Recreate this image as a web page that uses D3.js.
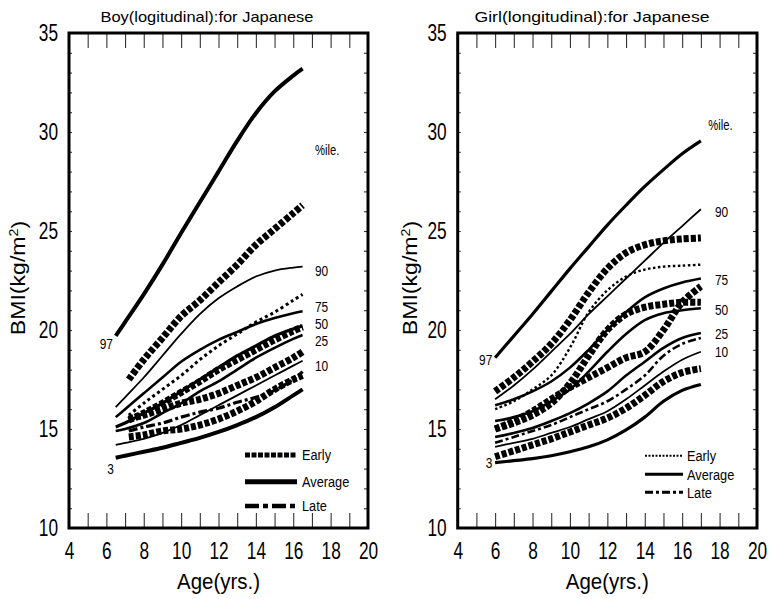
<!DOCTYPE html>
<html><head><meta charset="utf-8">
<script src="https://cdn.jsdelivr.net/npm/d3@7"></script>
<style>body{margin:0;background:#fff} svg{display:block} text{font-family:"Liberation Sans",Arial,sans-serif;fill:#000}</style>
</head><body><svg id="c" width="771" height="599"></svg>
<script>
// ---------- DATA ----------
const xTickLabels = [4,6,8,10,12,14,16,18,20];
const yTickLabels = [10,15,20,25,30,35];

// Boy percentile curves
const boyAges = [6.5,7,8,9,10,11,12,13,14,15,16,16.5];
const boyP97 = [19.7,20.4,21.8,23.3,24.9,26.45,28.0,29.55,30.95,32.05,32.85,33.2];
const boyP90 = [16.1,16.6,17.6,18.7,19.8,20.8,21.6,22.2,22.7,23.0,23.15,23.2];
const boyP75 = [15.6,16.0,16.8,17.6,18.4,19.0,19.5,19.9,20.3,20.6,20.85,20.95];
const boyP50 = [15.1,15.3,15.8,16.3,16.9,17.5,18.1,18.7,19.2,19.7,20.05,20.2];
const boyP25 = [14.9,15.0,15.3,15.8,16.3,16.9,17.4,18.0,18.6,19.1,19.55,19.75];
const boyP10 = [14.2,14.3,14.5,14.8,15.2,15.7,16.2,16.7,17.2,17.7,18.2,18.45];
const boyP3  = [13.55,13.65,13.85,14.05,14.3,14.55,14.85,15.2,15.6,16.1,16.7,17.0];
// Boy individual (maturity) curves
const boyAgesB = [7.2,8,9,10,11,12,13,14,15,16,16.5];
const boySqA = [17.5,18.5,19.6,20.7,21.5,22.4,23.3,24.3,25.1,25.9,26.3];
const boySqB = [15.45,15.8,16.3,16.85,17.4,18.0,18.5,19.0,19.5,19.95,20.15];
const boySqC = [15.5,15.7,16.0,16.3,16.5,16.8,17.2,17.6,18.1,18.6,18.9];
const boySqD = [14.6,14.7,14.9,15.0,15.2,15.5,15.9,16.4,17.0,17.5,17.7];
const boyEarly = [15.7,16.3,17.0,17.7,18.5,19.2,19.8,20.4,20.9,21.5,21.8];
const boyLate = [14.9,15.1,15.3,15.6,15.85,16.05,16.35,16.6,16.95,17.5,17.9];

// Girl curves
const girlAges = [6,7,8,9,10,11,12,13,14,15,16,17];
const girlP97 = [18.6,19.7,20.8,21.95,23.1,24.2,25.3,26.3,27.25,28.1,28.9,29.55];
const girlP90 = [16.5,17.2,18.0,18.9,19.8,20.8,21.7,22.6,23.5,24.4,25.25,26.1];
const girlP75 = [16.2,16.5,16.9,17.4,18.1,19.0,20.0,20.9,21.65,22.1,22.4,22.6];
const girlP50 = [15.4,15.6,15.9,16.4,17.0,17.9,18.9,19.8,20.5,20.85,21.0,21.1];
const girlP25 = [14.6,14.8,15.05,15.4,15.8,16.3,16.9,17.7,18.4,19.1,19.6,19.85];
const girlP10 = [14.1,14.3,14.5,14.8,15.1,15.5,15.9,16.5,17.2,17.9,18.5,18.9];
const girlP3  = [13.3,13.4,13.5,13.65,13.85,14.1,14.45,14.95,15.6,16.4,16.95,17.25];
const girlSqA = [16.9,17.6,18.4,19.3,20.5,21.9,23.1,23.9,24.3,24.5,24.6,24.65];
const girlSqB = [15.0,15.3,15.7,16.3,17.3,18.7,20.0,20.8,21.15,21.3,21.4,21.4];
const girlSqC = [15.0,15.4,15.9,16.5,17.1,17.6,18.1,18.6,18.9,20.0,21.4,22.2];
const girlSqD = [13.6,13.9,14.2,14.5,14.85,15.2,15.55,16.05,16.7,17.4,17.85,18.05];
const girlEarly = [16.0,16.4,17.0,17.7,19.1,20.9,22.0,22.7,23.05,23.2,23.25,23.3];
const girlLate = [14.3,14.6,14.9,15.2,15.6,16.0,16.4,17.0,17.7,18.7,19.3,19.6];

// Percentile labels
const pctLabels = ["90","75","50","25","10"];
const boyPctLabelY = [23.0,21.15,20.3,19.45,18.2];
const girlPctLabelY = [25.96,22.5,21.0,19.8,18.9];
const legendLabels = ["Early","Average","Late"];

// ---------- STYLES ----------
const ST = {
  thick:{w:4}, thick3:{w:3.2}, med:{w:2.6}, thin:{w:1.8},
  sq:{w:7, dash:"5,2"}, dot:{w:3, dash:"3,3"}, late:{w:3.2, dash:"9,3,3,3"},
  gdot:{w:2.4, dash:"2.5,2.5"}, glate:{w:2.6, dash:"8,3,3,3"}
};

const panels = [
  { x0:69, x1:368, title:"Boy(logitudinal):for Japanese", titleX:207, titleLen:213,
    series:[
      [boyAges,boyP97,'thick'],[boyAgesB,boySqA,'sq'],[boyAges,boyP90,'thin'],
      [boyAgesB,boyEarly,'dot'],[boyAges,boyP75,'med'],[boyAges,boyP50,'thick3'],
      [boyAgesB,boySqB,'sq'],[boyAges,boyP25,'med'],[boyAgesB,boySqC,'sq'],
      [boyAges,boyP10,'thin'],[boyAgesB,boyLate,'late'],[boyAgesB,boySqD,'sq'],
      [boyAges,boyP3,'thick']
    ],
    pctY: boyPctLabelY, pctX:17.16, ileX:17.16, ileY:29.1,
    lab97:[6.35,19.3], lab3:[6.4,13.0],
    legend:{x0:245,x1:297,tx:302,ys:[455,481.7,506], st:[{w:5,dash:"5,1.5"},{w:5},{w:4.5,dash:"14,4,5,4"}]},
    ylabX:18
  },
  { x0:457.7, x1:757, title:"Girl(longitudinal):for Japanese", titleX:592, titleLen:235,
    series:[
      [girlAges,girlP97,'thick3'],[girlAges,girlSqA,'sq'],[girlAges,girlP90,'thin'],
      [girlAges,girlEarly,'gdot'],[girlAges,girlP75,'med'],[girlAges,girlSqB,'sq'],
      [girlAges,girlP50,'med'],[girlAges,girlSqC,'sq'],[girlAges,girlP25,'med'],
      [girlAges,girlLate,'glate'],[girlAges,girlP10,'thin'],[girlAges,girlSqD,'sq'],
      [girlAges,girlP3,'thick3']
    ],
    pctY: girlPctLabelY, pctX:17.75, ileX:17.4, ileY:30.35,
    lab97:[5.85,18.5], lab3:[5.85,13.3],
    legend:{x0:645,x1:683,tx:687,ys:[455.7,474.3,492.3], st:[{w:2,dash:"2,1.5"},{w:3},{w:3,dash:"8,3,3,3"}]},
    ylabX:410
  }
];

const svg = d3.select('#c');
const yTop = 33, yBot = 528;

function placeText(g, str, x, y, size, sx, anchor){
  return g.append('text').attr('transform',`translate(${x},${y}) scale(${sx},1)`)
    .attr('font-size',size).attr('text-anchor',anchor||'start').attr('dy','0.35em').text(str);
}

panels.forEach(p=>{
  const g = svg.append('g');
  const x = d3.scaleLinear().domain([4,20]).range([p.x0,p.x1]);
  const y = d3.scaleLinear().domain([10,35]).range([yBot,yTop]);

  // minor ticks
  const tk = (sel)=>{ sel.select('.domain').remove(); sel.selectAll('line').attr('stroke','#333').attr('stroke-width',1.1); };
  g.append('g').attr('transform',`translate(0,${yBot})`)
    .call(d3.axisBottom(x).tickValues(d3.range(5,20)).tickSize(-15).tickFormat('')).call(tk);
  g.append('g').attr('transform',`translate(0,${yTop})`)
    .call(d3.axisTop(x).tickValues(d3.range(5,20)).tickSize(-15).tickFormat('')).call(tk);
  g.append('g').attr('transform',`translate(${p.x0},0)`)
    .call(d3.axisLeft(y).tickValues(d3.range(11,35)).tickSize(-3).tickFormat('')).call(tk);
  g.append('g').attr('transform',`translate(${p.x1},0)`)
    .call(d3.axisRight(y).tickValues(d3.range(11,35)).tickSize(-4).tickFormat('')).call(tk);

  // tick labels
  const xl = g.append('g').attr('transform',`translate(0,${yBot})`)
    .call(d3.axisBottom(x).tickValues(xTickLabels).tickSize(0).tickPadding(14).tickFormat(d3.format('d')));
  xl.select('.domain').remove();
  xl.selectAll('text').attr('font-size',24).attr('font-family',null).attr('transform','scale(0.72,1)');
  const yl = g.append('g').attr('transform',`translate(${p.x0},0)`)
    .call(d3.axisLeft(y).tickValues(yTickLabels).tickSize(0).tickFormat(d3.format('d')));
  yl.select('.domain').remove();
  yl.selectAll('text').attr('font-size',24).attr('font-family',null).attr('x',0)
    .attr('transform','translate(-11,0) scale(0.72,1)');

  // frame
  g.append('rect').attr('x',p.x0).attr('y',yTop).attr('width',p.x1-p.x0).attr('height',yBot-yTop)
    .attr('fill','none').attr('stroke','#000').attr('stroke-width',3);

  // curves
  const line = d3.line().curve(d3.curveCatmullRom.alpha(0.5));
  p.series.forEach(([ages,vals,sk])=>{
    const s = ST[sk];
    g.append('path').attr('d', line(ages.map((a,i)=>[x(a),y(vals[i])])))
      .attr('fill','none').attr('stroke','#000').attr('stroke-width',s.w)
      .attr('stroke-dasharray',s.dash||null).attr('stroke-linejoin','round');
  });

  // percentile labels
  pctLabels.forEach((t,i)=> placeText(g,t,x(p.pctX),y(p.pctY[i]),14,0.85));
  placeText(g,"%ile.",x(p.ileX),y(p.ileY),15,0.75);
  placeText(g,"97",x(p.lab97[0]),y(p.lab97[1]),14,0.85,'end');
  placeText(g,"3",x(p.lab3[0]),y(p.lab3[1]),14,0.85,'end');

  // legend
  const L = p.legend;
  legendLabels.forEach((t,i)=>{
    g.append('line').attr('x1',L.x0).attr('x2',L.x1).attr('y1',L.ys[i]).attr('y2',L.ys[i])
      .attr('stroke','#000').attr('stroke-width',L.st[i].w).attr('stroke-dasharray',L.st[i].dash||null);
    placeText(g,t,L.tx,L.ys[i],15,0.85);
  });

  // titles
  g.append('text').attr('x',p.titleX).attr('y',17).attr('dy','0.35em').attr('text-anchor','middle')
    .attr('font-size',15).attr('textLength',p.titleLen).attr('lengthAdjust','spacingAndGlyphs').text(p.title);
  const cx = (p.x0+p.x1)/2;
  g.append('text').attr('x',cx).attr('y',581).attr('dy','0.35em').attr('text-anchor','middle')
    .attr('font-size',22).attr('textLength',83).attr('lengthAdjust','spacingAndGlyphs').text("Age(yrs.)");
  const yt = g.append('text').attr('transform',`translate(${p.ylabX},278) rotate(-90) scale(1.1,1)`)
    .attr('text-anchor','middle').attr('dy','0.35em').attr('font-size',21);
  yt.append('tspan').text("BMI(kg/m");
  yt.append('tspan').attr('font-size',13).attr('dy','-0.55em').text("2");
  yt.append('tspan').attr('dy','0.35em').text(")");
});
</script></body></html>
